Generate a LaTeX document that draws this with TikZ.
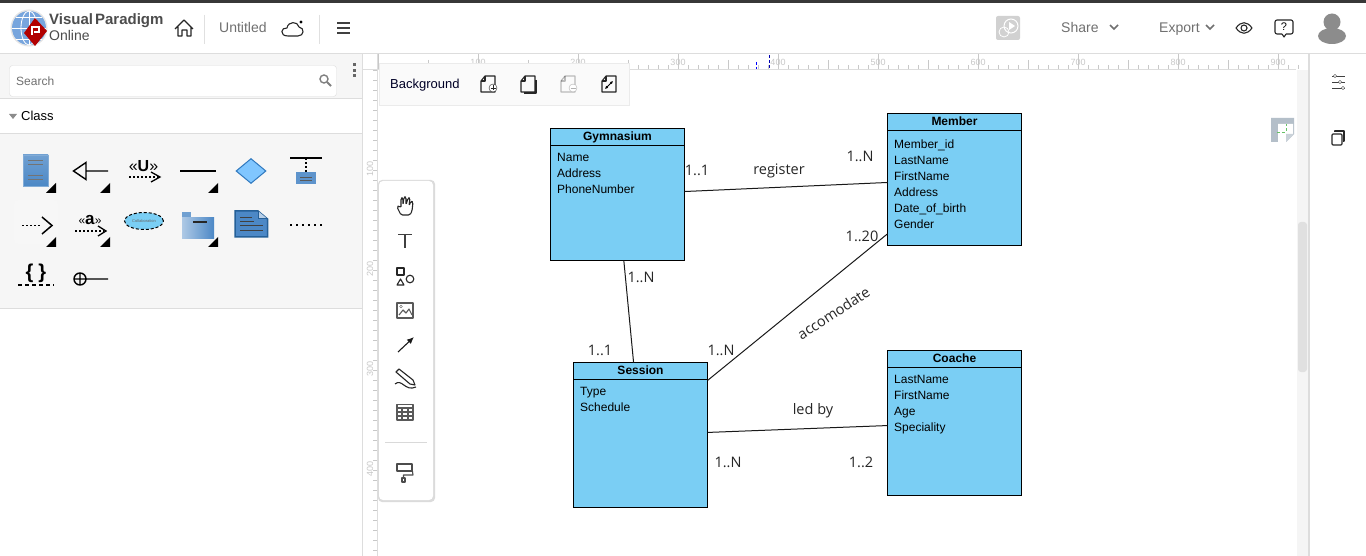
\documentclass[tikz,border=0pt]{standalone}
\usepackage{fontspec}
\setmainfont{Liberation Sans}
\newfontfamily\labelfont{Open Sans}
\usetikzlibrary{calc,positioning,arrows,arrows.meta,shapes.geometric}
\definecolor{classblue}{HTML}{7ACEF4}
\definecolor{panelgray}{HTML}{F6F6F6}
\definecolor{rulegray}{HTML}{DDDDDD}
\definecolor{tickgray}{HTML}{C8C8C8}
\definecolor{iconblue}{HTML}{4C88C6}
\definecolor{iconedge}{HTML}{2F78BE}
\definecolor{texgray}{HTML}{707070}
\definecolor{sheetgray}{HTML}{B4BFC9}
\tikzset{classbox/.style={draw=black,line width=1pt,fill=classblue,inner sep=0pt,outer sep=0pt,minimum width=134pt}}
\tikzset{classtitle/.style={font=\fontsize{12}{14}\selectfont\bfseries,inner sep=0pt}}
\tikzset{classattr/.style={font=\fontsize{12}{16}\selectfont,align=left,anchor=north west,inner sep=0pt}}
\tikzset{rel/.style={line width=1pt,black!90}}
\tikzset{mult/.style={font=\labelfont\fontsize{14.5}{16}\selectfont,text=black!85,inner sep=0pt}}
\tikzset{apptext/.style={font=\fontsize{14}{16}\selectfont,text=texgray,inner sep=0pt}}
\tikzset{rulertext/.style={font=\fontsize{9}{10}\selectfont,text=tickgray,inner sep=0pt}}
\tikzset{icon/.style={line width=1.1pt,black!85,line join=round}}
\tikzset{dotline/.style={line width=1.5pt,black,dash pattern=on 2pt off 2pt}}
\tikzset{pagesheet/.pic={\draw[icon] (-7,-3) -- (-3,-8) -- (7,-8) -- (7,8) -- (-7,8) -- cycle; \draw[icon] (-3,-8) -- (-3,-3) -- (-7,-3);}}
\newcommand{\menutip}[1]{\fill[black] (#1) ++(10,0) -- ++(0,10) -- ++(-10,0) -- cycle;}
\newcommand{\chevron}[1]{\draw[line width=1.6pt,texgray] (#1) ++(-4,-2) -- ++(4,4) -- ++(4,-4);}

\begin{document}
\begin{tikzpicture}[x=1pt,y=-1pt]
	\useasboundingbox (0,0) rectangle (1366,556);
	\fill[white] (0,0) rectangle (1366,556);
	%% left panel and header
	\fill[panelgray] (0,54) rectangle (362,308);
	\fill[white] (0,98) rectangle (362,134);
	\fill[black!78] (0,0) rectangle (1366,3);
	\draw[rulegray] (0,53.5) -- (1366,53.5);
	\draw[rulegray] (362.5,54) -- (362.5,556);
	\draw[rulegray] (0,98) -- (362,98);
	\draw[rulegray] (0,133.5) -- (362,133.5);
	\draw[rulegray] (0,308.5) -- (362,308.5);
	\draw[black!12] (204.5,15) -- (204.5,44);
	\draw[black!12] (319.5,15) -- (319.5,44);
	\draw[rulegray,fill=white,rounded corners=3pt] (9.5,65.5) rectangle (336.5,96.5);
	\node[apptext,font=\fontsize{12}{14}\selectfont,anchor=west] (searchtext) at (16,81) {Search};
	\draw[line width=1.4pt,black!50] (324,79) circle (4pt);
	\draw[line width=1.8pt,black!50] (327,82) -- (331,86);
	\foreach \y in {65,71,76} \fill[black!60] (352.5,\y-1.5) rectangle (355.5,\y+1.5);
	\fill[black!45] (9,114) -- (17,114) -- (13,119) -- cycle;
	\node[font=\fontsize{13}{14}\selectfont,anchor=west,inner sep=0pt] (classhead) at (21,115.5) {Class};
	%% logo
	\fill[black!10] (29,28) circle (18.5pt);
	\fill[cyan!55!blue!55] (29,28) circle (17pt);
	\draw[white,line width=.8pt] (29,11) -- (29,45) (12,28) -- (46,28) (16,17) -- (42,17) (16,39) -- (42,39);
	\draw[white,line width=.8pt] (29,28) ellipse (8pt and 17pt);
	\fill[red!70!black] (35,18) -- (47,31) -- (35,46) -- (24,33) -- cycle;
	\draw[white,line width=2.2pt] (32,35) -- (32,27) -- (39,27) -- (39,32) -- (34,32);
	\node[font=\fontsize{15}{18}\selectfont\bfseries,text=black!70,anchor=west,inner sep=0pt] (logotop) at (49,21) {Visual\hspace{2pt}Paradigm};
	\node[font=\fontsize{14}{16}\selectfont,text=black!70,anchor=west,inner sep=0pt] (logobot) at (49,35) {Online};
	%% header icons
	\draw[icon] (175,29) -- (184,20) -- (193,29) (178,27) -- (178,36) -- (182,36) -- (182,30) -- (187,30) -- (187,36) -- (191,36) -- (191,27);
	\node[apptext,anchor=base west] (doctitle) at (219,33) {Untitled};
	\draw[icon] (288,36) .. controls (279,36) and (281,27) .. (287,28) .. controls (288,21) and (298,21) .. (299,27) .. controls (305,28) and (304,36) .. (298,36) -- cycle;
	\fill[black] (301,22) circle (1.6pt);
	\foreach \y in {23,28,33} \draw[line width=1.3pt,black!75] (337,\y) -- (350,\y);
	\fill[black!18,rounded corners=2pt] (996,16) rectangle (1020,40);
	\draw[white,line width=1pt] (1011,26) circle (7pt);
	\draw[white,line width=.8pt] (1004,32) circle (5pt);
	\fill[white] (1009,22) -- (1015,26) -- (1009,30) -- cycle;
	\node[apptext,anchor=base west] (sharetext) at (1061,33) {Share};
	\chevron{1114,27}
	\node[apptext,anchor=base west] (exporttext) at (1159,33) {Export};
	\chevron{1210,27}
	\draw[icon] (1236,28) .. controls (1241,21) and (1247,21) .. (1252,28) .. controls (1247,35) and (1241,35) .. (1236,28) -- cycle;
	\draw[icon] (1244,28) circle (3pt);
	\draw[icon,rounded corners=2pt] (1275,20) rectangle (1293,34);
	\fill[white] (1282,33) rectangle (1286,35);
	\draw[icon] (1282,34) -- (1284,37) -- (1286,34);
	\node[font=\fontsize{11}{12}\selectfont,inner sep=0pt] (helpmark) at (1284,27) {?};
	\fill[black!45] (1332,22) circle (8.5pt);
	\fill[black!45] (1332,36) ellipse (14pt and 8pt);
	%% rulers
	\draw[rulegray] (363,69.5) -- (1296,69.5);
	\draw[rulegray] (377.5,54) -- (377.5,556);
	\foreach \x in {0,...,91} \draw[tickgray] ({388.5+10*\x},65) -- ({388.5+10*\x},69);
	\foreach \x in {0,...,9} \draw[tickgray] ({378.5+100*\x},54) -- ({378.5+100*\x},69);
	\foreach \x in {0,...,8} \draw[tickgray] ({428.5+100*\x},60) -- ({428.5+100*\x},69);
	\foreach \x in {1,...,9} \node[rulertext] (top\x) at ({378+100*\x},62) {\x00};
	\foreach \y in {0,...,48} \draw[tickgray] (373,{70.5+10*\y}) -- (377,{70.5+10*\y});
	\foreach \y in {1,...,4} \node[rulertext,rotate=90] (left\y) at (370,{69+100*\y}) {\y00};
	\draw[blue,densely dashed] (756.5,62) -- (756.5,69);
	\draw[blue!70!black,densely dashed] (769.5,55) -- (769.5,69);
	%% right side
	\fill[black!4] (1297,70) rectangle (1308,556);
	\fill[black!12,rounded corners=3pt] (1298,222) rectangle (1307,372);
	\draw[rulegray,line width=2pt] (1309,54) -- (1309,556);
	\foreach \y/\x in {76/1335,82/1340,88/1343} {
		\draw[black!75] (1332,\y) -- (1345,\y);
		\draw[black!75,fill=white] (\x,\y) circle (1.6pt);
	}
	\draw[icon] (1335,132) -- (1335,131) -- (1344,131) -- (1344,141) -- (1343,141);
	\draw[icon,rounded corners=1pt] (1332,134) rectangle (1342,145);
	\fill[sheetgray] (1271,118) -- (1294,118) -- (1294,134) -- (1286,142) -- (1271,142) -- cycle;
	\fill[white] (1278,124) -- (1293,124) -- (1293,134) -- (1286,134) -- (1286,142) -- (1278,142) -- cycle;
	\fill[white!30!sheetgray] (1286,134) -- (1294,134) -- (1286,142) -- cycle;
	\draw[green!60!black!60,densely dashed] (1277,132) -- (1286,132) -- (1286,124);
	%% background bar
	\draw[black!8,fill=black!2] (379.5,63.5) rectangle (629.5,105);
	\node[font=\fontsize{13}{14}\selectfont,text=black!85!blue,anchor=base west,inner sep=0pt] (bgtext) at (390,88.5) {Background};
	\pic (pageadd) at (488,84) {pagesheet};
	\draw[black!85,fill=white] (493,88) circle (4pt);
	\draw[black!85] (490.5,88) -- (495.5,88) (493,85.5) -- (493,90.5);
	\pic (pagedup) at (528,84) {pagesheet};
	\draw[icon] (536,80) -- (536,93) -- (524,93);
	\pic[black!30,opacity=.3] (pagedel) at (568,84) {pagesheet};
	\draw[black!30,fill=white] (573,88) circle (4pt);
	\draw[black!30] (570.5,88) -- (575.5,88);
	\pic (pagefit) at (609,84) {pagesheet};
	\draw[line width=.8pt,{Latex[length=3pt,width=3pt]}-{Latex[length=3pt,width=3pt]}] (605,89) -- (613,81);
	%% tool bar
	\fill[black!14,rounded corners=4pt] (378,180) rectangle (435,502);
	\fill[white,rounded corners=4pt] (379,181) rectangle (433,500);
	\draw[black!15] (385,442.5) -- (427,442.5);
	\draw[icon,rounded corners=1.5pt] (401,215) -- (397,207) -- (399,205.5) -- (401,208) -- (401,198) -- (403,198) -- (403,205) -- (404,197) -- (406,197) -- (406,205) -- (408,198) -- (410,198) -- (409,206) -- (411,201) -- (413,202) -- (412,211) -- (410,215) -- cycle;
	\draw[line width=1.3pt,black!75] (398,234.5) -- (412,234.5) (405,234.5) -- (405,248);
	\draw[icon] (397,268) rectangle (404,275);
	\draw[icon] (397,285) -- (404,285) -- (400.5,279) -- cycle;
	\draw[icon] (410,279) circle (3.8pt);
	\draw[icon,black!65] (397,303) rectangle (413,318);
	\draw[icon,black!65] (399,315) -- (403,310) -- (406,313) -- (409,309) -- (412,315);
	\draw[black!65] (401,306.5) circle (1.3pt);
	\draw[line width=1.1pt,black!90,-{Latex[length=7pt,width=6pt]}] (398,352) -- (414,337);
	\draw[icon] (396,372) -- (399,369) -- (413,380) -- (415,385) -- (410,384) -- cycle;
	\draw[icon] (395,384) .. controls (402,378) and (405,392) .. (416,387);
	\draw[icon,black!65] (397,404.5) rectangle (413,420);
	\draw[icon,black!65] (397,408) -- (413,408) (397,412) -- (413,412) (397,416) -- (413,416) (402,408) -- (402,420) (408,408) -- (408,420);
	\draw[icon,black!70] (397,464) rectangle (412,471);
	\draw[icon,black!70] (412,468) -- (413,475) -- (403.5,475) -- (403.5,478);
	\draw[icon,black!70] (402,478) rectangle (405,482);
	%% class palette
	\fill[black!3,rounded corners=4pt] (14,200) rectangle (58,244);
	\foreach \p in {46,100,208} {\menutip{\p,183}}
	\foreach \p in {46,100,208} {\menutip{\p,237}}
	\shade[top color=iconblue!80,bottom color=iconblue] (23,155) rectangle (48,186);
	\draw[iconblue!70] (23,155) rectangle (48,186);
	\foreach \y in {161,165,176,180} \draw[black!55,line width=1pt] (28,\y) -- (43,\y);
	\draw[line width=1.4pt,black] (73.5,171) -- (86,162.5) -- (86,179.5) -- cycle (86,171) -- (108,171);
	\node[font=\fontsize{16}{18}\selectfont,inner sep=0pt] (useglyph) at (143.5,166) {«\textbf{U}»};
	\draw[dotline] (129,177) -- (158,177);
	\draw[line width=1.3pt] (151,172) -- (160,177) -- (151,182);
	\draw[line width=1.4pt] (180,171) -- (216,171);
	\node[diamond,draw=iconedge,fill=blue!45!cyan!50,line width=1pt,inner sep=0pt,minimum width=30pt,minimum height=25pt] (choicemark) at (251,171) {};
	\draw[line width=1.3pt] (290,158) -- (322,158);
	\draw[dotline,line width=1.2pt] (306,158) -- (306,172);
	\fill[iconblue!90] (296,172.5) rectangle (316,184);
	\foreach \y in {177,180} \draw[black!65] (300,\y) -- (312,\y);
	\draw[dotline] (22,225.5) -- (40,225.5);
	\draw[line width=1.5pt] (42,217) -- (52,225.5) -- (42,234);
	\node[font=\fontsize{17}{18}\selectfont,inner sep=0pt] (dependglyph) at (90,220) {{\fontsize{12}{12}\selectfont«}\textbf{a}{\fontsize{12}{12}\selectfont»}};
	\draw[dotline] (75,231) -- (104,231);
	\draw[line width=1.3pt] (98,226) -- (106,231) -- (98,236);
	\node[ellipse,draw=black,densely dashed,fill=classblue,line width=1pt,inner sep=0pt,minimum width=39pt,minimum height=17pt,text=black!60,font=\fontsize{4}{5}\selectfont] (collabmark) at (144,221) {Collaboration};
	\fill[iconblue!80] (182,212) rectangle (191,220);
	\shade[left color=iconblue!45,right color=iconblue] (182,218) rectangle (214,239);
	\draw[line width=1.3pt,black!85] (193,222) -- (207,222);
	\draw[iconedge!80!black,line width=1.5pt,fill=iconblue] (235,211) -- (258,211) -- (267.5,219) -- (267.5,237) -- (235,237) -- cycle;
	\draw[iconedge!80!black,line width=1pt,fill=white!60!iconblue] (258,211) -- (258,219) -- (267.5,219);
	\foreach \y/\xe in {217/252,221/254,225/263,230/263} \draw[black!75] (240,\y) -- (\xe,\y);
	\foreach \x in {290,296,...,320} \fill[black] (\x,224) rectangle ++(2,2);
	\node[font=\fontsize{20}{20}\selectfont\bfseries,inner sep=0pt] (constraintglyph) at (36,273) {\{\hspace{5pt}\}};
	\draw[line width=1.2pt,dash pattern=on 4pt off 3pt] (18,285) -- (54,285);
	\draw[line width=1.4pt] (80,279) circle (6pt) (74,279) -- (86,279) (80,273) -- (80,285) (86,279) -- (108,279);
	%% classes
	\node[classbox,minimum height=132pt] (gym) at (617.5,194.5) {};
	\node[classbox,minimum height=132pt] (member) at (954.5,179.5) {};
	\node[classbox,minimum height=145pt] (session) at (640.5,435) {};
	\node[classbox,minimum height=145pt] (coach) at (954.5,423) {};
	\foreach \c in {gym,member,session,coach}
		\draw[line width=1pt] ([yshift=-17pt]\c.north west) -- ([yshift=-17pt]\c.north east);
	\node[classtitle] (gymtitle) at ([yshift=-8.5pt]gym.north) {Gymnasium};
	\node[classtitle] (membertitle) at ([yshift=-8pt]member.north) {Member};
	\node[classtitle] (sessiontitle) at ([yshift=-8pt]session.north) {Session};
	\node[classtitle] (coachtitle) at ([yshift=-8pt]coach.north) {Coache};
	\node[classattr] (gymattr) at ([shift={(6.5,25)}]gym.north west) {Name\\Address\\PhoneNumber};
	\node[classattr] (memberattr) at ([shift={(6.5,26)}]member.north west) {Member\_id\\LastName\\FirstName\\Address\\Date\_of\_birth\\Gender};
	\node[classattr] (sessionattr) at ([shift={(6.5,25)}]session.north west) {Type\\Schedule};
	\node[classattr] (coachattr) at ([shift={(6.5,25)}]coach.north west) {LastName\\FirstName\\Age\\Speciality};
	%% associations
	\draw[rel] (gym) -- (member);
	\draw[rel] (gym) -- (session);
	\draw[rel] (session) -- (member);
	\draw[rel] (session) -- (coach);
	\node[mult] (regtext) at (779,170.5) {register};
	\node[mult] (ledtext) at (813,410.5) {led by};
	\node[mult,rotate=33] (acctext) at (833.5,313) {accomodate};
	\node[mult] (m1) at (697,170) {1..1};
	\node[mult] (m2) at (860,156) {1..N};
	\node[mult] (m3) at (641,277) {1..N};
	\node[mult] (m4) at (600,350) {1..1};
	\node[mult] (m5) at (721,350) {1..N};
	\node[mult] (m6) at (862,236) {1..20};
	\node[mult] (m7) at (728,462) {1..N};
	\node[mult] (m8) at (861,462) {1..2};
\end{tikzpicture}
\end{document}
